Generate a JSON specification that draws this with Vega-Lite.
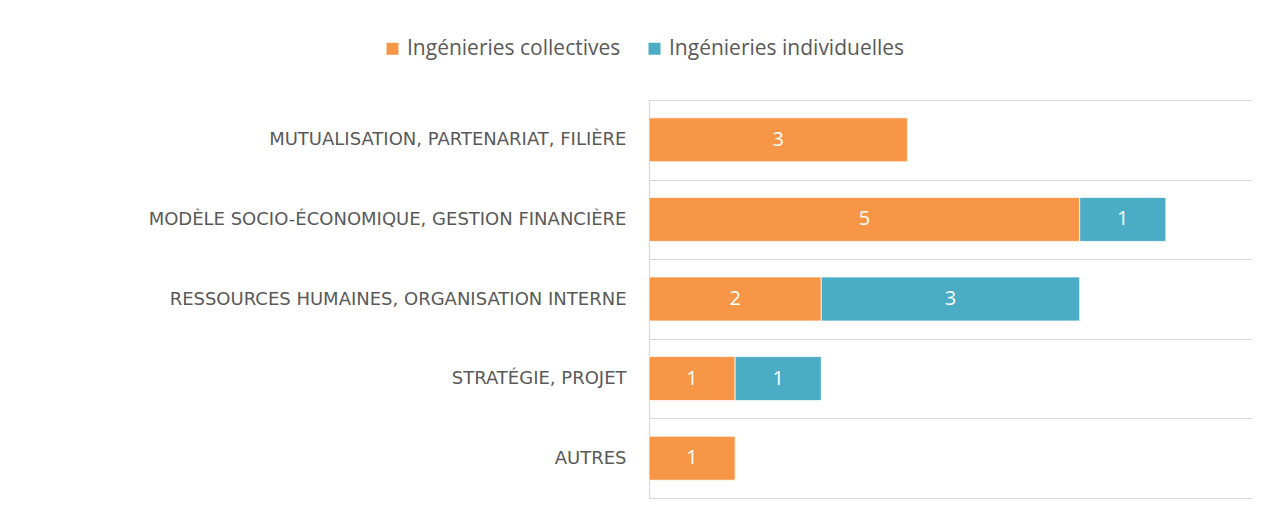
{
  "$schema": "https://vega.github.io/schema/vega-lite/v6.json",
  "width": 603,
  "height": 398,
  "autosize": {"type": "none"},
  "padding": {"left": 649, "top": 100, "right": 18, "bottom": 21},
  "background": "white",
  "config": {"view": {"stroke": null}, "font": "Open Sans"},
  "data": {
    "values": [
      {"categorie": "MUTUALISATION, PARTENARIAT, FILIÈRE", "serie": "Ingénieries collectives", "valeur": 3},
      {"categorie": "MODÈLE SOCIO-ÉCONOMIQUE, GESTION FINANCIÈRE", "serie": "Ingénieries collectives", "valeur": 5},
      {"categorie": "MODÈLE SOCIO-ÉCONOMIQUE, GESTION FINANCIÈRE", "serie": "Ingénieries individuelles", "valeur": 1},
      {"categorie": "RESSOURCES HUMAINES, ORGANISATION INTERNE", "serie": "Ingénieries collectives", "valeur": 2},
      {"categorie": "RESSOURCES HUMAINES, ORGANISATION INTERNE", "serie": "Ingénieries individuelles", "valeur": 3},
      {"categorie": "STRATÉGIE, PROJET", "serie": "Ingénieries collectives", "valeur": 1},
      {"categorie": "STRATÉGIE, PROJET", "serie": "Ingénieries individuelles", "valeur": 1},
      {"categorie": "AUTRES", "serie": "Ingénieries collectives", "valeur": 1}
    ]
  },
  "encoding": {
    "y": {
      "field": "categorie",
      "type": "nominal",
      "sort": ["MUTUALISATION, PARTENARIAT, FILIÈRE", "MODÈLE SOCIO-ÉCONOMIQUE, GESTION FINANCIÈRE", "RESSOURCES HUMAINES, ORGANISATION INTERNE", "STRATÉGIE, PROJET", "AUTRES"],
      "scale": {"paddingInner": 0, "paddingOuter": 0},
      "axis": {
        "title": null,
        "ticks": false,
        "labelPadding": 23,
        "labelFont": "DejaVu Sans",
        "labelFontSize": 18,
        "labelColor": "#595959",
        "labelLimit": 700,
        "domainColor": "#d9d9d9",
        "domainWidth": 1.2,
        "grid": true,
        "gridColor": "#d9d9d9",
        "gridWidth": 1.2,
        "tickBand": "extent"
      }
    },
    "x": {
      "field": "valeur",
      "type": "quantitative",
      "stack": "zero",
      "scale": {"domain": [0, 7], "nice": false},
      "axis": null
    },
    "order": {"field": "serie", "type": "nominal", "sort": "ascending"}
  },
  "layer": [
    {
      "mark": {"type": "bar", "height": {"band": 0.553}, "stroke": "white", "strokeWidth": 0.75},
      "encoding": {
        "color": {
          "field": "serie",
          "type": "nominal",
          "scale": {"domain": ["Ingénieries collectives", "Ingénieries individuelles"], "range": ["#F79646", "#4BACC6"]},
          "legend": {
            "orient": "none",
            "legendX": -267,
            "legendY": -62,
            "direction": "horizontal",
            "title": null,
            "symbolType": "square",
            "symbolSize": 144,
            "symbolStrokeWidth": 0,
            "labelFont": "Open Sans",
            "labelFontSize": 21,
            "labelColor": "#595959",
            "labelLimit": 400,
            "labelOffset": 4,
            "columnPadding": 23
          }
        }
      }
    },
    {
      "mark": {"type": "text", "color": "white", "fontSize": 20, "font": "Open Sans"},
      "encoding": {
        "detail": {"field": "serie"},
        "text": {"field": "valeur", "type": "quantitative"},
        "x": {"field": "valeur", "type": "quantitative", "stack": "zero", "bandPosition": 0.5}
      }
    }
  ]
}
